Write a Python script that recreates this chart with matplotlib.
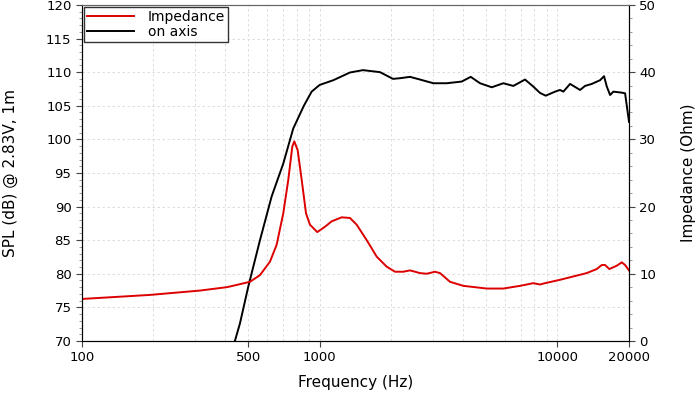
import matplotlib
matplotlib.use("Agg")
import matplotlib.pyplot as plt
from matplotlib.ticker import FixedLocator, FixedFormatter, AutoMinorLocator, NullFormatter, LogLocator

# on-axis SPL (dB @ 2.83V, 1m)
spl_freq = [440, 462, 501, 561, 628, 703, 774, 858, 925, 1000, 1141, 1341, 1521,
            1794, 2034, 2177, 2398, 2642, 3006, 3421, 3957, 4318, 4725, 5292,
            5922, 6523, 7306, 7917, 8451, 8929, 9770, 10250, 10590, 11300,
            12450, 13060, 13950, 15110, 15700, 16130, 16650, 17190, 18650,
            19250, 19680, 20000]
spl_db = [70.0, 72.6, 78.1, 85.0, 91.5, 96.4, 101.6, 105.0, 107.1, 108.1, 108.8,
          109.95, 110.3, 110.0, 109.0, 109.1, 109.3, 108.9, 108.35, 108.35, 108.6,
          109.3, 108.35, 107.75, 108.35, 107.95, 108.9, 107.85, 106.9, 106.5,
          107.1, 107.35, 107.1, 108.25, 107.35, 107.95, 108.25, 108.8, 109.4,
          107.85, 106.6, 107.1, 106.95, 106.85, 104.4, 102.6]

# impedance (Ohm)
imp_freq = [100, 193, 314, 406, 419, 509, 561, 618, 659, 703, 738, 767, 782, 808,
            840, 876, 910, 977, 1053, 1123, 1238, 1341, 1431, 1577, 1737, 1914,
            2074, 2247, 2398, 2642, 2819, 3055, 3207, 3534, 4019, 5042, 5922,
            6960, 7917, 8451, 8867, 10250, 11670, 13280, 14630, 15360, 15860,
            16530, 17770, 18650, 19250, 20000]
imp_ohm = [6.25, 6.85, 7.5, 8.0, 8.1, 8.8, 9.8, 11.8, 14.3, 19.0, 24.0, 28.9,
           29.7, 28.4, 24.0, 19.0, 17.3, 16.2, 17.0, 17.8, 18.4, 18.3, 17.3,
           15.0, 12.55, 11.05, 10.3, 10.3, 10.5, 10.1, 10.0, 10.3, 10.1, 8.8,
           8.2, 7.8, 7.8, 8.2, 8.6, 8.4, 8.6, 9.1, 9.6, 10.1, 10.7, 11.3, 11.3,
           10.7, 11.2, 11.7, 11.3, 10.5]

xtick_vals = [100, 500, 1000, 10000, 20000]
xtick_labels = ["100", "500", "1000", "10000", "20000"]

plt.rcParams['font.family'] = 'DejaVu Sans'

fig = plt.figure(figsize=(7, 3.96), dpi=100)
ax = fig.add_axes([0.117, 0.139, 0.7816, 0.8485])
ax2 = ax.twinx()

ax.set_xscale('log')
ax.set_xlim(100, 20000)
ax.set_ylim(70, 120)
ax2.set_ylim(0, 50)

grid_kw = dict(color='#d8d8d8', linestyle=(0, (3, 3)), linewidth=0.6)
ax.xaxis.set_major_locator(FixedLocator(xtick_vals))
ax.xaxis.set_major_formatter(FixedFormatter(xtick_labels))
ax.xaxis.set_minor_locator(LogLocator(base=10, subs=range(1, 10)))
ax.xaxis.set_minor_formatter(NullFormatter())
ax.grid(True, which='both', axis='x', **grid_kw)
ax.grid(True, which='major', axis='y', **grid_kw)
ax.set_axisbelow(True)

ax.yaxis.set_minor_locator(AutoMinorLocator(5))
ax2.yaxis.set_minor_locator(AutoMinorLocator(5))
ax.set_yticks(range(70, 121, 5))
ax2.set_yticks(range(0, 51, 10))

ax2.plot(imp_freq, imp_ohm, color='#dd0000', linewidth=1.4, label='Impedance')
ax.plot(spl_freq, spl_db, color='black', linewidth=1.4, label='on axis')

for a in (ax, ax2):
    a.tick_params(which='major', labelsize=9.5, length=4, color='#444444')
    a.tick_params(which='minor', length=2, color='#888888')
    a.spines['top'].set_color('#666666')
ax.tick_params(axis='x', which='minor', length=0)

ax.set_xlabel('Frequency (Hz)', fontsize=11, labelpad=8)
ax.set_ylabel('SPL (dB) @ 2.83V, 1m', fontsize=11, labelpad=20)
ax2.set_ylabel('Impedance (Ohm)', fontsize=11, labelpad=18)

h1, l1 = ax2.get_legend_handles_labels()
h2, l2 = ax.get_legend_handles_labels()
leg = ax2.legend(h1 + h2, l1 + l2, loc='upper left', fontsize=10,
                 frameon=True, fancybox=False, borderpad=0.2,
                 handlelength=3.4, handletextpad=1.0, labelspacing=0.1,
                 borderaxespad=0.15)
leg.get_frame().set_edgecolor('black')
leg.get_frame().set_linewidth(1.0)

fig.savefig('out.png', dpi=100)
